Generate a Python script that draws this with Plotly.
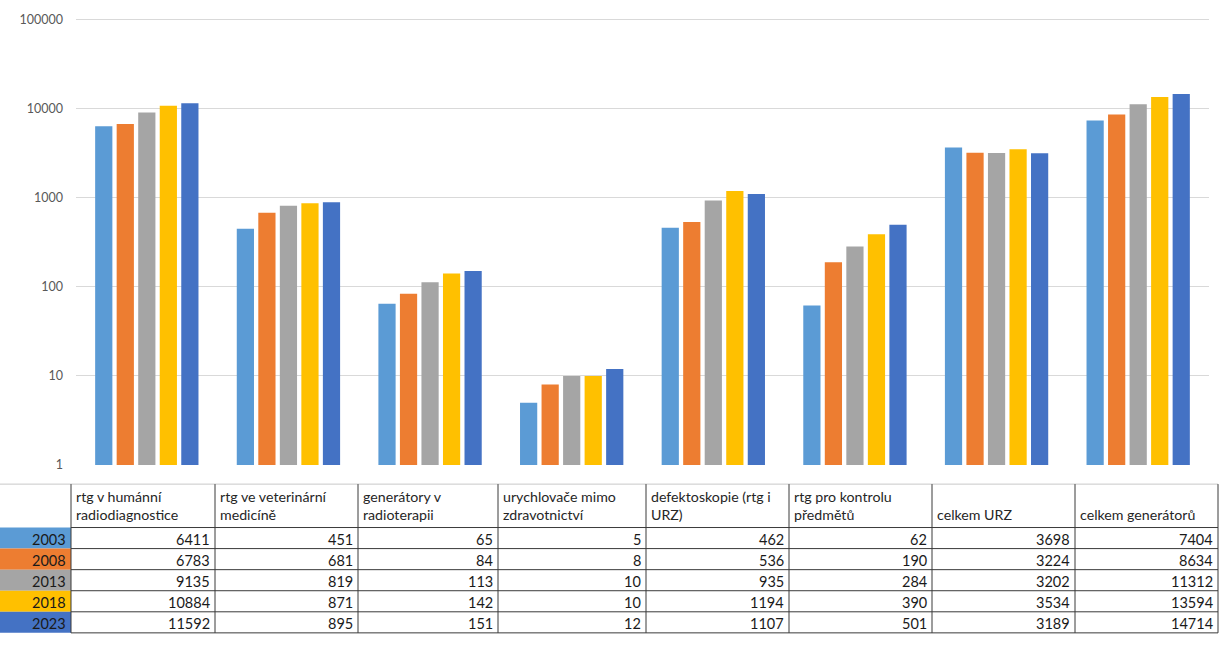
import plotly.graph_objects as go

# Categories (table headers keep their wrapped form)
categories = [
    "rtg v humánní\nradiodiagnostice",
    "rtg ve veterinární\nmedicíně",
    "generátory v\nradioterapii",
    "urychlovače mimo\nzdravotnictví",
    "defektoskopie (rtg i\nURZ)",
    "rtg pro kontrolu\npředmětů",
    "celkem URZ",
    "celkem generátorů",
]
years = ["2003", "2008", "2013", "2018", "2023"]

values_2003 = [6411, 451, 65, 5, 462, 62, 3698, 7404]
values_2008 = [6783, 681, 84, 8, 536, 190, 3224, 8634]
values_2013 = [9135, 819, 113, 10, 935, 284, 3202, 11312]
values_2018 = [10884, 871, 142, 10, 1194, 390, 3534, 13594]
values_2023 = [11592, 895, 151, 12, 1107, 501, 3189, 14714]
series = [values_2003, values_2008, values_2013, values_2018, values_2023]

colors = ["#5B9BD5", "#ED7D31", "#A5A5A5", "#FFC000", "#4472C4"]

y_ticks = [1, 10, 100, 1000, 10000, 100000]

W, H = 1220, 648
FONT = "Lato, Carlito, Calibri, sans-serif"


def px(x):
    return x / W


def py(y):
    return 1 - y / H


x_names = [c.replace("\n", " ") for c in categories]

fig = go.Figure()
for year, vals, col in zip(years, series, colors):
    fig.add_trace(go.Bar(x=x_names, y=vals, name=year, marker=dict(color=col, line=dict(width=0))))

fig.update_layout(
    width=W, height=H,
    margin=dict(l=0, r=0, t=0, b=0),
    paper_bgcolor="white", plot_bgcolor="white",
    showlegend=False,
    barmode="group", bargap=0.24, bargroupgap=0.2,
    font=dict(family=FONT, color="#595959"),
    xaxis=dict(domain=[px(76), px(1209)], showticklabels=False, showgrid=False,
               zeroline=False, showline=False, ticks=""),
    yaxis=dict(domain=[py(468.4), py(12.4)], type="log", range=[0, 5.02],
               tickvals=y_ticks, ticktext=[str(v) for v in y_ticks],
               showgrid=True, gridcolor="#D9D9D9", gridwidth=1,
               zeroline=False, showline=False, ticks="",
               tickfont=dict(size=12.5, color="#595959", family=FONT),
               ticklabelstandoff=12),
)

# Data table under the plot
col_edges = [71, 215, 358, 498, 646, 789, 932, 1075, 1218]
header_top, header_bottom, row_h = 487.9, 532.2, 21.5
table_bottom = header_bottom + row_h * len(years)

shapes = []
annotations = []

# year label cells with series colours
for i, (year, col) in enumerate(zip(years, colors)):
    y0 = header_bottom + i * row_h
    shapes.append(dict(type="rect", xref="paper", yref="paper",
                       x0=px(0), x1=px(col_edges[0]), y0=py(y0), y1=py(y0 + row_h),
                       fillcolor=col, line=dict(width=0), layer="below"))
    annotations.append(dict(x=px(col_edges[0] - 3), y=py(y0 + row_h / 2 + 1),
                            xref="paper", yref="paper", xanchor="right", yanchor="middle",
                            text=year, showarrow=False,
                            font=dict(size=14.5, color="#1a1a1a", family=FONT)))

# grid lines of the table
shapes.append(dict(type="line", xref="paper", yref="paper",
                   x0=px(0), x1=px(col_edges[-1]), y0=py(header_top), y1=py(header_top),
                   line=dict(color="#C8C8C8", width=1)))
for i in range(len(years) + 1):
    yy = header_bottom + i * row_h
    shapes.append(dict(type="line", xref="paper", yref="paper",
                       x0=px(col_edges[0]), x1=px(col_edges[-1]), y0=py(yy), y1=py(yy),
                       line=dict(color="#3A3A3A", width=1)))
for xe in col_edges:
    shapes.append(dict(type="line", xref="paper", yref="paper",
                       x0=px(xe), x1=px(xe), y0=py(header_top), y1=py(table_bottom),
                       line=dict(color="#3A3A3A", width=1)))

# header texts
for j, cat in enumerate(categories):
    annotations.append(dict(x=px(col_edges[j] + 3), y=py(header_bottom - 3),
                            xref="paper", yref="paper", xanchor="left", yanchor="bottom",
                            text=cat.replace("\n", "<br>"), align="left", showarrow=False,
                            font=dict(size=14.2, color="#262626", family=FONT)))

# value cells
for i, vals in enumerate(series):
    y0 = header_bottom + i * row_h
    for j, v in enumerate(vals):
        annotations.append(dict(x=px(col_edges[j + 1] - 3), y=py(y0 + row_h / 2 + 1),
                                xref="paper", yref="paper", xanchor="right", yanchor="middle",
                                text=str(v), showarrow=False,
                                font=dict(size=14.5, color="#1a1a1a", family=FONT)))

fig.update_layout(shapes=shapes, annotations=annotations)
fig.write_html("out.html")
